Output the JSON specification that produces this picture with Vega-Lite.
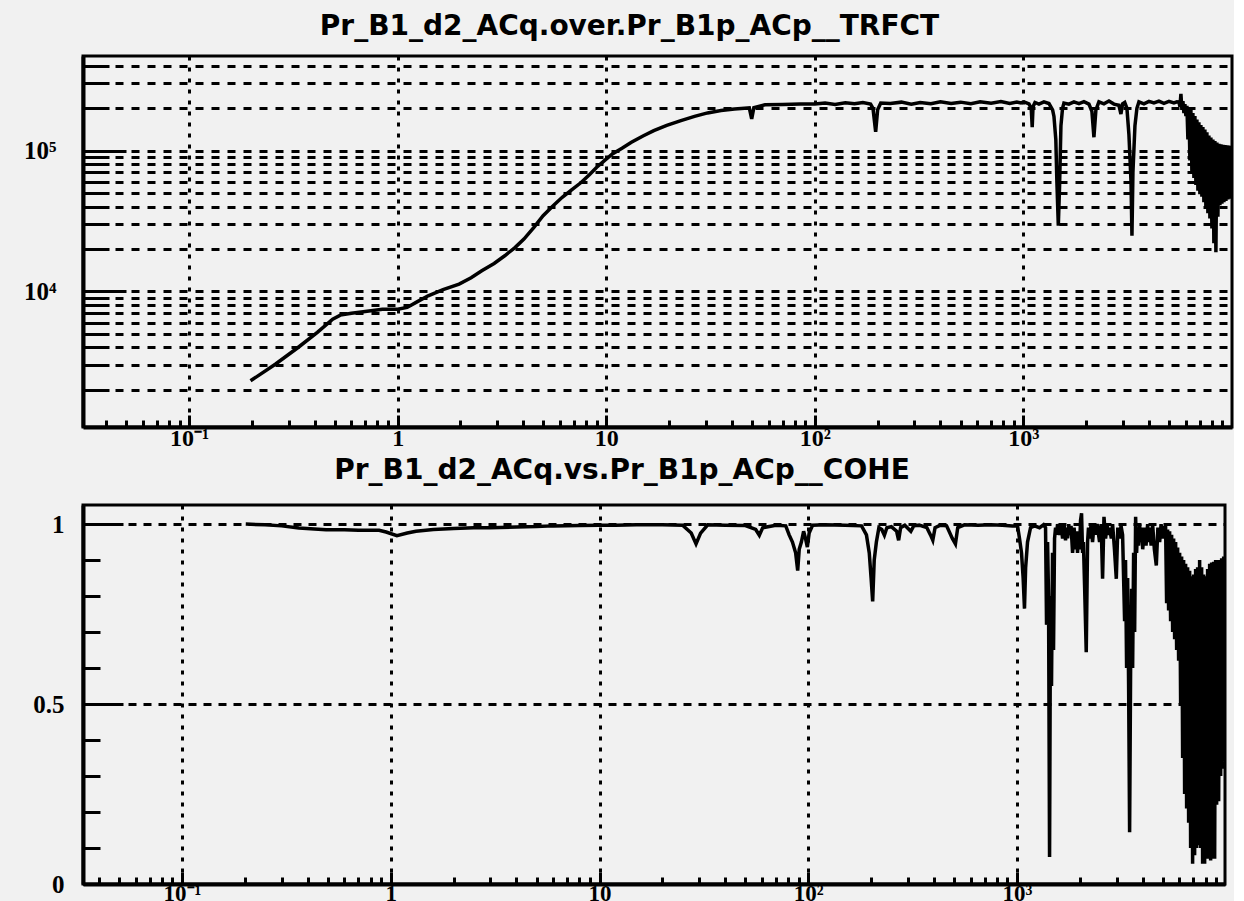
{
  "$schema": "https://vega.github.io/schema/vega-lite/v6.json",
  "background": "#f1f1f1",
  "padding": {"left": 0, "top": 11, "right": 0, "bottom": 0},
  "config": {
    "view": {"stroke": "black", "strokeWidth": 3},
    "axis": {"zindex": 0}
  },
  "datasets": {
    "trf": [
      {"f":0.197,"v":2320},{"f":0.259,"v":3040},{"f":0.333,"v":4000},{"f":0.412,"v":5120},{"f":0.488,"v":6360},{"f":0.531,"v":6790},{"f":0.6,"v":7000},{"f":0.684,"v":7170},{"f":0.845,"v":7480},{"f":1.0,"v":7480},{"f":1.11,"v":7700},{"f":1.25,"v":8500},{"f":1.4,"v":9310},{"f":1.65,"v":10300},{"f":1.97,"v":11270},{"f":2.25,"v":12500},{"f":2.53,"v":14030},{"f":2.9,"v":15800},{"f":3.26,"v":17930},{"f":3.65,"v":20500},{"f":4.03,"v":23570},{"f":4.5,"v":28500},{"f":4.98,"v":34500},{"f":5.5,"v":40000},{"f":6.15,"v":46600},{"f":6.8,"v":52500},{"f":7.6,"v":59600},{"f":8.3,"v":67500},{"f":9.0,"v":76200},{"f":9.8,"v":85000},{"f":10.7,"v":94700},{"f":11.9,"v":104000},{"f":13.2,"v":114600},{"f":15,"v":127000},{"f":16.9,"v":138700},{"f":19.5,"v":151000},{"f":22.8,"v":163300},{"f":26.5,"v":175000},{"f":30.6,"v":185300},{"f":35.5,"v":192500},{"f":41.2,"v":197800},{"f":46,"v":200000},{"f":48.5,"v":201000},{"f":49.8,"v":168000},{"f":51,"v":202000},{"f":57.7,"v":212000},{"f":70,"v":213000},{"f":85,"v":214000},{"f":100,"v":214000},{"f":112,"v":218000},{"f":125,"v":213000},{"f":140,"v":219000},{"f":155,"v":215000},{"f":170,"v":220000},{"f":185,"v":214000},{"f":190,"v":200000},{"f":195.7,"v":136000},{"f":200,"v":195000},{"f":207,"v":218000},{"f":230,"v":216000},{"f":260,"v":221000},{"f":290,"v":214000},{"f":320,"v":220000},{"f":360,"v":215000},{"f":400,"v":222000},{"f":450,"v":216000},{"f":500,"v":221000},{"f":560,"v":215000},{"f":620,"v":222000},{"f":700,"v":217000},{"f":780,"v":223000},{"f":860,"v":216000},{"f":930,"v":221000},{"f":973,"v":218000},{"f":1006,"v":222000},{"f":1063,"v":215000},{"f":1090,"v":200000},{"f":1102,"v":147000},{"f":1112,"v":205000},{"f":1136,"v":220000},{"f":1187,"v":214000},{"f":1254,"v":222000},{"f":1326,"v":216000},{"f":1380,"v":195000},{"f":1401,"v":175000},{"f":1430,"v":120000},{"f":1447,"v":60000},{"f":1470,"v":29300},{"f":1490,"v":55000},{"f":1513,"v":150000},{"f":1540,"v":200000},{"f":1564,"v":218000},{"f":1652,"v":214000},{"f":1747,"v":222000},{"f":1846,"v":216000},{"f":1950,"v":223000},{"f":2061,"v":214000},{"f":2130,"v":190000},{"f":2178,"v":124500},{"f":2226,"v":195000},{"f":2301,"v":222000},{"f":2432,"v":215000},{"f":2570,"v":225000},{"f":2716,"v":214000},{"f":2870,"v":210000},{"f":2934,"v":182000},{"f":2990,"v":215000},{"f":3060,"v":220000},{"f":3135,"v":200000},{"f":3205,"v":130000},{"f":3280,"v":60000},{"f":3314,"v":24900},{"f":3350,"v":70000},{"f":3425,"v":150000},{"f":3500,"v":200000},{"f":3579,"v":222000},{"f":3782,"v":215000},{"f":3997,"v":224000},{"f":4224,"v":218000},{"f":4463,"v":225000},{"f":4717,"v":217000},{"f":4984,"v":224000},{"f":5267,"v":218000},{"f":5445,"v":222000},
      {"f":5567,"v":221000},{"f":5628,"v":205000},{"f":5690,"v":253000},{"f":5753,"v":195000},{"f":5817,"v":225000},{"f":5881,"v":185000},{"f":5946,"v":214000},{"f":6012,"v":176000},{"f":6079,"v":208000},{"f":6146,"v":120000},{"f":6215,"v":203000},{"f":6283,"v":85000},{"f":6353,"v":195000},{"f":6424,"v":70000},{"f":6494,"v":185000},{"f":6567,"v":64000},{"f":6640,"v":176000},{"f":6714,"v":57000},{"f":6788,"v":166000},{"f":6864,"v":52000},{"f":6938,"v":159000},{"f":7015,"v":49000},{"f":7093,"v":152000},{"f":7172,"v":47000},{"f":7251,"v":147000},{"f":7332,"v":43000},{"f":7413,"v":141000},{"f":7496,"v":39000},{"f":7579,"v":135000},{"f":7663,"v":36000},{"f":7748,"v":128000},{"f":7834,"v":33000},{"f":7921,"v":124000},{"f":8010,"v":28000},{"f":8099,"v":120000},{"f":8187,"v":22000},{"f":8279,"v":117000},{"f":8371,"v":19000},{"f":8464,"v":114000},{"f":8558,"v":34000},{"f":8653,"v":112000},{"f":8750,"v":41000},{"f":8847,"v":111000},{"f":8945,"v":42000},{"f":9045,"v":110000},{"f":9145,"v":43000},{"f":9247,"v":109500},{"f":9350,"v":44000},{"f":9454,"v":109000},{"f":9559,"v":45000},{"f":9665,"v":108500},{"f":9772,"v":45500},{"f":9881,"v":108000}
    ],
    "coh": [
      {"f":0.202,"c":1.0},{"f":0.25,"c":0.998},{"f":0.3,"c":0.995},{"f":0.363,"c":0.989},{"f":0.49,"c":0.984},{"f":0.6,"c":0.984},{"f":0.7,"c":0.983},{"f":0.879,"c":0.983},{"f":0.95,"c":0.978},{"f":1.07,"c":0.968},{"f":1.2,"c":0.975},{"f":1.32,"c":0.98},{"f":1.6,"c":0.985},{"f":2.0,"c":0.988},{"f":2.5,"c":0.99},{"f":3,"c":0.99},{"f":4,"c":0.992},{"f":5,"c":0.993},{"f":6,"c":0.995},{"f":8,"c":0.996},{"f":10,"c":0.997},{"f":12,"c":0.997},{"f":15,"c":0.998},{"f":20,"c":0.998},{"f":25,"c":0.997},{"f":27.5,"c":0.975},{"f":29.0,"c":0.945},{"f":30.5,"c":0.975},{"f":33,"c":0.998},{"f":40,"c":0.997},{"f":50,"c":0.996},{"f":56,"c":0.985},{"f":58.3,"c":0.969},{"f":60.5,"c":0.99},{"f":70,"c":0.997},{"f":78,"c":0.995},{"f":81,"c":0.97},{"f":84,"c":0.95},{"f":87,"c":0.92},{"f":89,"c":0.871},{"f":90.5,"c":0.93},{"f":92.7,"c":0.95},{"f":95,"c":0.98},{"f":97,"c":0.96},{"f":99,"c":0.936},{"f":101,"c":0.975},{"f":105,"c":0.997},{"f":120,"c":0.998},{"f":150,"c":0.997},{"f":180,"c":0.995},{"f":190,"c":0.97},{"f":196,"c":0.92},{"f":200,"c":0.85},{"f":203.5,"c":0.785},{"f":207,"c":0.9},{"f":212,"c":0.95},{"f":218,"c":0.99},{"f":225,"c":0.985},{"f":231.6,"c":0.969},{"f":238,"c":0.99},{"f":250,"c":0.993},{"f":265,"c":0.98},{"f":271,"c":0.955},{"f":277,"c":0.99},{"f":290,"c":0.997},{"f":310,"c":0.98},{"f":320,"c":0.995},{"f":340,"c":0.997},{"f":370,"c":0.99},{"f":385,"c":0.97},{"f":395,"c":0.955},{"f":405,"c":0.99},{"f":430,"c":0.997},{"f":460,"c":0.995},{"f":490,"c":0.96},{"f":507,"c":0.945},{"f":520,"c":0.99},{"f":560,"c":0.998},{"f":650,"c":0.997},{"f":750,"c":0.998},{"f":850,"c":0.997},{"f":950,"c":0.995},{"f":1006,"c":0.995},{"f":1028,"c":0.96},{"f":1051,"c":0.92},{"f":1070,"c":0.85},{"f":1086,"c":0.765},{"f":1100,"c":0.88},{"f":1123,"c":0.95},{"f":1161,"c":0.99},{"f":1213,"c":0.995},{"f":1282,"c":0.99},{"f":1340,"c":0.998},{"f":1370,"c":0.99},{"f":1385,"c":0.72},{"f":1401,"c":0.95},{"f":1416,"c":0.8},{"f":1432,"c":0.075},{"f":1447,"c":0.8},{"f":1463,"c":0.55},{"f":1480,"c":0.92},{"f":1496,"c":0.65},{"f":1513,"c":0.96},{"f":1530,"c":0.99},{"f":1546,"c":0.97},{"f":1564,"c":1.0},{"f":1599,"c":0.97},{"f":1630,"c":0.995},{"f":1653,"c":0.96},{"f":1680,"c":1.0},{"f":1708,"c":0.955},{"f":1730,"c":0.99},{"f":1747,"c":0.96},{"f":1770,"c":1.0},{"f":1785,"c":0.97},{"f":1815,"c":0.995},{"f":1846,"c":0.92},{"f":1877,"c":0.99},{"f":1908,"c":0.93},{"f":1930,"c":0.98},{"f":1950,"c":0.92},{"f":1970,"c":0.97},{"f":1993,"c":0.93},{"f":2015,"c":1.01},{"f":2038,"c":1.03},{"f":2061,"c":0.92},{"f":2080,"c":0.95},{"f":2107,"c":0.83},{"f":2146,"c":0.644},{"f":2178,"c":0.95},{"f":2200,"c":0.99},{"f":2226,"c":0.96},{"f":2265,"c":1.0},{"f":2301,"c":0.95},{"f":2340,"c":1.0},{"f":2379,"c":0.97},{"f":2420,"c":1.0},{"f":2486,"c":0.95},{"f":2530,"c":1.0},{"f":2570,"c":0.848},{"f":2610,"c":1.02},{"f":2657,"c":0.96},{"f":2700,"c":1.0},{"f":2740,"c":0.97},{"f":2777,"c":0.99},{"f":2830,"c":0.96},{"f":2870,"c":1.0},{"f":2930,"c":0.93},{"f":2990,"c":0.848},{"f":3040,"c":0.99},{"f":3101,"c":0.96},{"f":3150,"c":0.995},{"f":3205,"c":0.97},{"f":3277,"c":0.73},{"f":3310,"c":0.9},{"f":3350,"c":0.6},{"f":3388,"c":0.85},{"f":3425,"c":0.55},{"f":3463,"c":0.144},{"f":3501,"c":0.6},{"f":3540,"c":0.82},{"f":3580,"c":0.6},{"f":3619,"c":0.92},{"f":3660,"c":0.7},{"f":3700,"c":1.02},{"f":3740,"c":0.92},{"f":3782,"c":0.99},{"f":3820,"c":0.94},{"f":3867,"c":1.0},{"f":3910,"c":0.95},{"f":3953,"c":0.99},{"f":4000,"c":0.93},{"f":4086,"c":0.99},{"f":4150,"c":0.94},{"f":4224,"c":1.0},{"f":4270,"c":0.95},{"f":4318,"c":0.99},{"f":4390,"c":0.94},{"f":4463,"c":1.0},{"f":4550,"c":0.93},{"f":4649,"c":0.885},{"f":4730,"c":0.99},{"f":4823,"c":0.95},{"f":4900,"c":1.0},{"f":4984,"c":0.96},{"f":5060,"c":0.99},
      {"f":5151,"c":0.99},{"f":5208,"c":0.78},{"f":5266,"c":0.985},{"f":5324,"c":0.76},{"f":5384,"c":0.98},{"f":5443,"c":0.73},{"f":5504,"c":0.97},{"f":5567,"c":0.7},{"f":5628,"c":0.96},{"f":5690,"c":0.68},{"f":5753,"c":0.95},{"f":5817,"c":0.65},{"f":5881,"c":0.935},{"f":5946,"c":0.62},{"f":6012,"c":0.92},{"f":6079,"c":0.5},{"f":6146,"c":0.91},{"f":6215,"c":0.35},{"f":6283,"c":0.9},{"f":6353,"c":0.25},{"f":6424,"c":0.89},{"f":6494,"c":0.21},{"f":6567,"c":0.88},{"f":6640,"c":0.17},{"f":6714,"c":0.87},{"f":6788,"c":0.1},{"f":6864,"c":0.855},{"f":6938,"c":0.056},{"f":7015,"c":0.86},{"f":7093,"c":0.08},{"f":7172,"c":0.875},{"f":7251,"c":0.1},{"f":7332,"c":0.88},{"f":7413,"c":0.108},{"f":7496,"c":0.9},{"f":7579,"c":0.1},{"f":7663,"c":0.88},{"f":7748,"c":0.056},{"f":7834,"c":0.86},{"f":7921,"c":0.056},{"f":8010,"c":0.855},{"f":8099,"c":0.07},{"f":8187,"c":0.875},{"f":8279,"c":0.07},{"f":8371,"c":0.89},{"f":8464,"c":0.065},{"f":8558,"c":0.893},{"f":8653,"c":0.07},{"f":8750,"c":0.895},{"f":8847,"c":0.07},{"f":8945,"c":0.9},{"f":9045,"c":0.22},{"f":9145,"c":0.9},{"f":9247,"c":0.23},{"f":9350,"c":0.9},{"f":9454,"c":0.3},{"f":9559,"c":0.905},{"f":9665,"c":0.32},{"f":9772,"c":0.91},{"f":9881,"c":0.34}
    ]
  },
  "concat": [
    {
      "width": 1149,
      "height": 371,
      "title": {"text": "Pr_B1_d2_ACq.over.Pr_B1p_ACp__TRFCT", "font": "DejaVu Sans", "fontSize": 28, "fontWeight": "bold", "color": "black", "anchor": "middle", "dx": -28, "offset": 15},
      "layer": [
        {
          "data": {"name": "trf"},
          "mark": {"type": "line", "color": "black", "strokeWidth": 3.5, "clip": true},
          "encoding": {
            "x": {"field": "f", "type": "quantitative", "scale": {"type": "log", "domain": [0.031, 10000], "nice": false},
              "axis": {"orient": "bottom", "values": [0.1, 1, 10, 100, 1000], "labelExpr": "datum.value < 0.5 ? '10⁻¹' : datum.value < 5 ? '1' : datum.value < 50 ? '10' : datum.value < 500 ? '10²' : '10³'", "grid": true, "gridColor": "black", "gridWidth": 3, "gridDash": [4, 7], "tickSize": -12, "tickWidth": 3, "tickColor": "black", "domainColor": "black", "domainWidth": 4, "labelFont": "Liberation Serif", "labelFontWeight": "bold", "labelFontSize": 24, "labelColor": "black", "labelPadding": 11, "labelFlush": false, "labelOverlap": false, "title": null}},
            "y": {"field": "v", "type": "quantitative", "scale": {"type": "log", "domain": [1090, 470000], "nice": false},
              "axis": {"orient": "left", "values": [10000, 100000], "labelExpr": "datum.value < 50000 ? '10⁴' : '10⁵'", "grid": true, "gridColor": "black", "gridWidth": 3, "gridDash": [8, 8], "tickSize": -43, "tickWidth": 3, "tickColor": "black", "domainColor": "black", "domainWidth": 4, "labelFont": "Liberation Serif", "labelFontWeight": "bold", "labelFontSize": 25, "labelColor": "black", "labelPadding": 70, "minExtent": 81, "maxExtent": 81, "title": null}}
          }
        },
        {
          "data": {"name": "trf"},
          "mark": {"type": "line", "opacity": 0},
          "encoding": {
            "x": {"field": "f", "type": "quantitative", "scale": {"type": "log", "domain": [0.031, 10000], "nice": false},
              "axis": {"orient": "bottom", "values": [0.04,0.05,0.06,0.07,0.08,0.09,0.2,0.3,0.4,0.5,0.6,0.7,0.8,0.9,2,3,4,5,6,7,8,9,20,30,40,50,60,70,80,90,200,300,400,500,600,700,800,900,2000,3000,4000,5000,6000,7000,8000,9000], "labels": false, "grid": false, "domain": false, "tickSize": -7, "tickWidth": 3, "tickColor": "black", "title": null}},
            "y": {"field": "v", "type": "quantitative", "scale": {"type": "log", "domain": [1090, 470000], "nice": false},
              "axis": {"orient": "left", "values": [2000,3000,4000,5000,6000,7000,8000,9000,20000,30000,40000,50000,60000,70000,80000,90000,200000,300000,400000], "labels": false, "grid": true, "gridColor": "black", "gridWidth": 3, "gridDash": [8, 8], "domain": false, "tickSize": -26, "tickWidth": 3, "tickColor": "black", "title": null}}
          }
        }
      ],
      "resolve": {"axis": {"x": "independent", "y": "independent"}}
    },
    {
      "width": 1142,
      "height": 379,
      "title": {"text": "Pr_B1_d2_ACq.vs.Pr_B1p_ACp__COHE", "font": "DejaVu Sans", "fontSize": 28, "fontWeight": "bold", "color": "black", "anchor": "middle", "dx": -32, "offset": 20},
      "layer": [
        {
          "data": {"name": "coh"},
          "mark": {"type": "line", "color": "black", "strokeWidth": 3.5, "clip": true},
          "encoding": {
            "x": {"field": "f", "type": "quantitative", "scale": {"type": "log", "domain": [0.03355, 9917], "nice": false},
              "axis": {"orient": "bottom", "values": [0.1, 1, 10, 100, 1000], "labelExpr": "datum.value < 0.5 ? '10⁻¹' : datum.value < 5 ? '1' : datum.value < 50 ? '10' : datum.value < 500 ? '10²' : '10³'", "grid": true, "gridColor": "black", "gridWidth": 3, "gridDash": [4, 7], "tickSize": -12, "tickWidth": 3, "tickColor": "black", "domainColor": "black", "domainWidth": 4, "labelFont": "Liberation Serif", "labelFontWeight": "bold", "labelFontSize": 23, "labelColor": "black", "labelPadding": 10, "labelFlush": false, "labelOverlap": false, "title": null}},
            "y": {"field": "c", "type": "quantitative", "scale": {"domain": [0, 1.053], "nice": false, "zero": false},
              "axis": {"orient": "left", "values": [0, 0.5, 1], "labelExpr": "datum.value == 0 ? '0' : datum.value == 1 ? '1' : '0.5'", "grid": true, "gridColor": "black", "gridWidth": 3, "gridDash": [8, 7], "tickSize": -40, "tickWidth": 3, "tickColor": "black", "domainColor": "black", "domainWidth": 4, "labelFont": "Liberation Serif", "labelFontWeight": "bold", "labelFontSize": 25, "labelColor": "black", "labelPadding": 59, "minExtent": 81, "maxExtent": 81, "title": null}}
          }
        },
        {
          "data": {"name": "coh"},
          "mark": {"type": "line", "opacity": 0},
          "encoding": {
            "x": {"field": "f", "type": "quantitative", "scale": {"type": "log", "domain": [0.03355, 9917], "nice": false},
              "axis": {"orient": "bottom", "values": [0.04,0.05,0.06,0.07,0.08,0.09,0.2,0.3,0.4,0.5,0.6,0.7,0.8,0.9,2,3,4,5,6,7,8,9,20,30,40,50,60,70,80,90,200,300,400,500,600,700,800,900,2000,3000,4000,5000,6000,7000,8000,9000], "labels": false, "grid": false, "domain": false, "tickSize": -7, "tickWidth": 3, "tickColor": "black", "title": null}},
            "y": {"field": "c", "type": "quantitative", "scale": {"domain": [0, 1.053], "nice": false, "zero": false},
              "axis": {"orient": "left", "values": [0.1,0.2,0.3,0.4,0.6,0.7,0.8,0.9], "labels": false, "grid": false, "domain": false, "tickSize": -17, "tickWidth": 3, "tickColor": "black", "title": null}}
          }
        }
      ],
      "resolve": {"axis": {"x": "independent", "y": "independent"}}
    }
  ],
  "columns": 1,
  "spacing": 3
}
